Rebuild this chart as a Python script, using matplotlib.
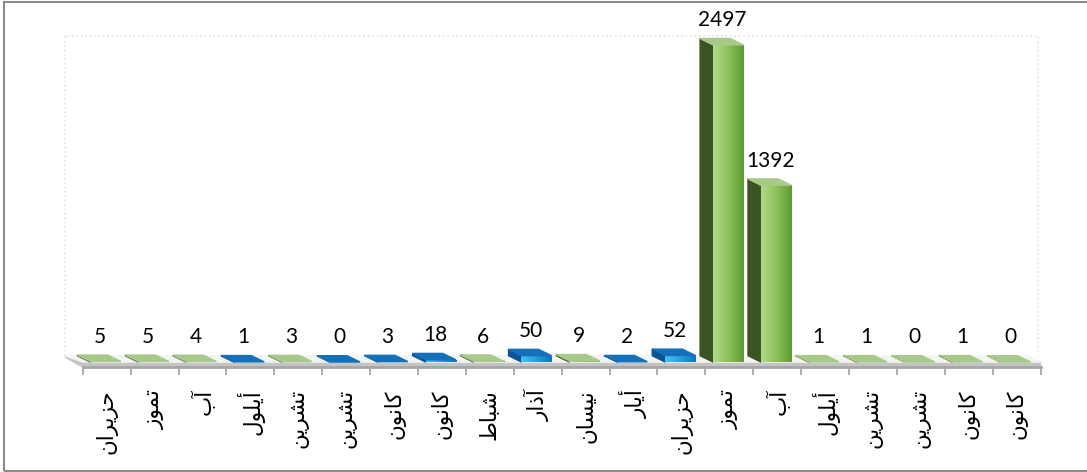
import numpy as np
import matplotlib
matplotlib.use('Agg')
import matplotlib.pyplot as plt
from matplotlib.colors import LinearSegmentedColormap
from matplotlib.patches import Rectangle

months = ['حزيران', 'تموز', 'آب', 'أيلول', 'تشرين', 'تشرين', 'كانون', 'كانون',
          'شباط', 'آذار', 'نيسان', 'أيار', 'حزيران', 'تموز', 'آب', 'أيلول',
          'تشرين', 'تشرين', 'كانون', 'كانون']
values = [5, 5, 4, 1, 3, 0, 3, 18, 6, 50, 9, 2, 52, 2497, 1392, 1, 1, 0, 1, 0]
series = ['g', 'g', 'g', 'b', 'g', 'b', 'b', 'b', 'g', 'b', 'g', 'b', 'b',
          'g', 'g', 'g', 'g', 'g', 'g', 'g']

# arabic presentation forms (iso, fin, ini, med) -- matplotlib does no shaping
DUAL = {
    'ب': (0xFE8F, 0xFE90, 0xFE91, 0xFE92), 'ت': (0xFE95, 0xFE96, 0xFE97, 0xFE98),
    'ح': (0xFEA1, 0xFEA2, 0xFEA3, 0xFEA4), 'س': (0xFEB1, 0xFEB2, 0xFEB3, 0xFEB4),
    'ش': (0xFEB5, 0xFEB6, 0xFEB7, 0xFEB8), 'ط': (0xFEC1, 0xFEC2, 0xFEC3, 0xFEC4),
    'ك': (0xFED9, 0xFEDA, 0xFEDB, 0xFEDC), 'ل': (0xFEDD, 0xFEDE, 0xFEDF, 0xFEE0),
    'م': (0xFEE1, 0xFEE2, 0xFEE3, 0xFEE4), 'ن': (0xFEE5, 0xFEE6, 0xFEE7, 0xFEE8),
    'ي': (0xFEF1, 0xFEF2, 0xFEF3, 0xFEF4),
}
RIGHT = {
    'ا': (0xFE8D, 0xFE8E), 'آ': (0xFE81, 0xFE82), 'أ': (0xFE83, 0xFE84),
    'ذ': (0xFEAB, 0xFEAC), 'ر': (0xFEAD, 0xFEAE), 'ز': (0xFEAF, 0xFEB0),
    'و': (0xFEED, 0xFEEE),
}


def shape(word):
    out = []
    for k, ch in enumerate(word):
        prev_joins = k > 0 and word[k - 1] in DUAL
        next_joins = ch in DUAL and k + 1 < len(word)
        if ch in DUAL:
            iso, fin, ini, med = DUAL[ch]
            if prev_joins and next_joins:
                out.append(chr(med))
            elif prev_joins:
                out.append(chr(fin))
            elif next_joins:
                out.append(chr(ini))
            else:
                out.append(chr(iso))
        elif ch in RIGHT:
            out.append(chr(RIGHT[ch][1] if prev_joins else RIGHT[ch][0]))
        else:
            out.append(ch)
    return ''.join(reversed(out))


faces = {
    'g': dict(front=['#b3d88a', '#8cc15a', '#5f9a32'], side='#3c5322', top='#a8c98a'),
    'b': dict(front=['#4cc0f0', '#22a0de', '#0f74bd'], side='#0a5594', top='#1470b8'),
}

fig = plt.figure(figsize=(10.87, 4.72), dpi=100)
ax = fig.add_axes([65 / 1087, 105 / 472, 978 / 1087, 331 / 472])
ax.set_xlim(-0.87, 19.55)
ax.set_ylim(-39, 2567)

x = np.arange(len(values))
dx, dy = -0.27, 50
w = 0.63
lefts = x - 0.34

# floor + back walls
ax.fill([-0.5, 19.5, 19.5 + dx, -0.5 + dx - 0.1], [0, 0, dy, dy], color='#f4f4f4', zorder=1)
ax.fill([-0.5, 19.5, 19.5, -0.5 + dx - 0.1, -0.5 + dx - 0.1], [-39, -39, 0, dy, dy - 10],
        color='#c4c4c4', zorder=0.9)
ax.plot([-0.87, -0.87, 19.45, 19.45], [dy, 2567, 2567, dy], ls=':', lw=1.2,
        color='#e2e2e2', zorder=0.5, clip_on=False)

bars = ax.bar(lefts, values, width=w, align='edge', color='none', zorder=3)
for rect, v, s, l in zip(bars, values, series, lefts):
    f = faces[s]
    cmap = LinearSegmentedColormap.from_list('f' + s, f['front'])
    grad = np.linspace(0, 1, 64).reshape(1, -1)
    im = ax.imshow(grad, cmap=cmap, aspect='auto', extent=[l, l + w, 0, max(v, 1)],
                   zorder=3)
    im.set_clip_path(rect)
    ax.fill([l, l, l + dx, l + dx], [0, v, v + dy, dy], color=f['side'], zorder=2.9)
    ax.fill([l, l + w, l + w + dx, l + dx], [v, v, v + dy, v + dy], color=f['top'], zorder=3.1)
    ax.annotate(str(v), (l + w / 2 + dx / 2 + 0.02, v + dy), xytext=(0, 6),
                textcoords='offset points', ha='center', va='bottom',
                fontsize=15, family='Lato', color='#000000', zorder=4)

ax.set_xticks(np.arange(-0.5, 20, 1))
ax.set_xticklabels([])
ax.set_xticks(x, minor=True)
ax.set_xticklabels([shape(m) for m in months], minor=True, rotation=90,
                   fontsize=15.5, family='DejaVu Sans', va='top', ha='center')
ax.tick_params(axis='x', which='major', length=6, width=1.2, color='#a0a0a0')
ax.tick_params(axis='x', which='minor', length=0, pad=16)
ax.set_yticks([])
for side in ['left', 'right', 'top']:
    ax.spines[side].set_visible(False)
ax.spines['bottom'].set_color('#a6a6a6')
ax.spines['bottom'].set_linewidth(2)
ax.spines['bottom'].set_bounds(-0.5, 19.5)
ax.set_facecolor('none')

fig.add_artist(Rectangle((4 / 1087, 1 / 472), 1.2, 469 / 472, transform=fig.transFigure,
                         fill=False, ec='#8c8c8c', lw=1.5))

fig.savefig('out.png', dpi=100)
